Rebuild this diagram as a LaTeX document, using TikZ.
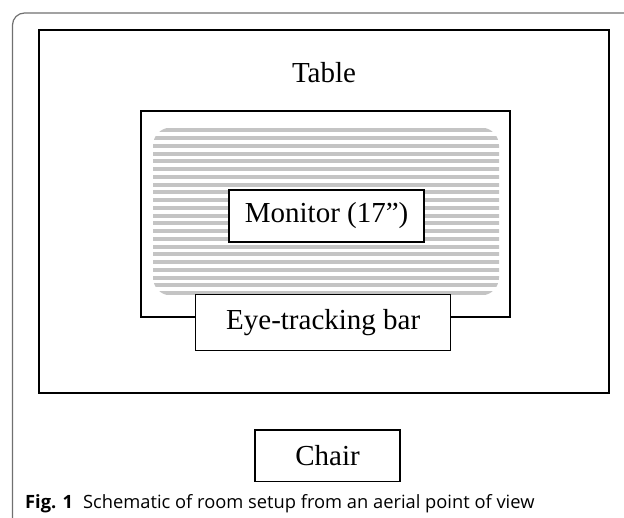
\documentclass[tikz,border=0pt]{standalone}
\usepackage{fontspec}
\setmainfont{Liberation Serif}
\newfontfamily\capfont{Open Sans}
\usepackage{tikz}
\usepackage{xcolor}
\definecolor{framegray}{HTML}{707070}
\definecolor{stripegray}{HTML}{C4C4C4}
\tikzset{
  labeltext/.style={font=\fontsize{29}{33}\selectfont, inner sep=0pt},
  itembox/.style={draw, fill=white, line width=2pt, labeltext},
  stripe/.style={stripegray, line width=4pt}
}

\begin{document}
\begin{tikzpicture}[x=1pt,y=-1pt]
                            \useasboundingbox (0,0) rectangle (624,518);

                            % Page frame
                            \draw[framegray, line width=1.2pt, rounded corners=12pt]
                            (12.5,530) -- (12.5,13) -- (640,13);

                            % Table
                            \draw[line width=2pt] (38.7,30) rectangle (609,393);
                            \node[labeltext] (tablelabel) at (324,73) {Table};

                            % Screen outline
                            \draw[line width=2pt] (141,111) rectangle (510,316.7);

                            % Striped screen area
                            \begin{scope}
                            \clip[rounded corners=18pt] (153,127.5) rectangle (499,295.5);
                            \foreach \i in {0,...,21}
                                \draw[stripe] (150,130.5+\i*7.75) -- (502,130.5+\i*7.75);
                            \end{scope}

                            % Items
                            \node[itembox, minimum width=195pt, minimum height=51.7pt]
                                (monitor) at (326.6,215.8) {Monitor (17”)};
                            \node[itembox, line width=1pt, minimum width=255pt, minimum height=56.5pt]
                                (bar) at (323.2,322.3) {Eye-tracking bar};
                            \node[itembox, line width=1.6pt, minimum width=145pt, minimum height=51.7pt]
                                (chair) at (327.5,455.8) {Chair};

                            % Caption
                            \node[anchor=base west, inner sep=0pt, font=\capfont\fontsize{18.3}{21}\selectfont]
                                (caption) at (25,508) {\textbf{Fig. 1}\hspace{10pt}Schematic of room setup from an aerial point of view};
\end{tikzpicture}
\end{document}
